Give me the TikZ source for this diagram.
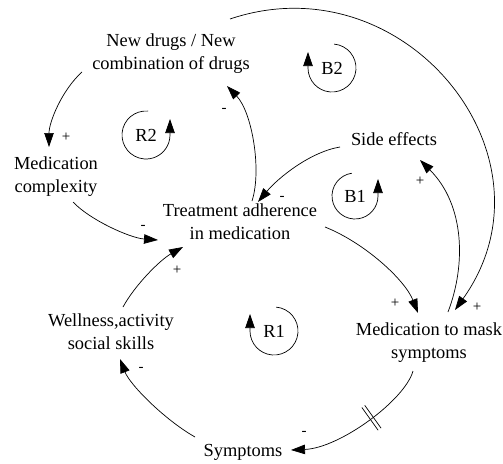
\documentclass[tikz,border=0pt]{standalone}
\usepackage{fontspec}
\setmainfont{Liberation Serif}
\usetikzlibrary{arrows.meta,decorations.markings}
\begin{document}
\begin{tikzpicture}[x = 1pt,y = -1pt,color = {black},
var/.style = {align = center,inner sep = 0pt,font = \fontsize{18.4}{23}\selectfont},
pol/.style = {inner sep = 0pt,font = \fontsize{15}{17}\selectfont},
link/.style = {line width = 0.7pt,-{Triangle[length = 14pt,width = 9.5pt]}},
delaymark/.style = {postaction = {decorate,decoration = {markings,mark = at position #1 with
{\draw[-,line width = 0.7pt] (-1.8pt,-14pt) -- (-1.8pt,14pt) (1.8pt,-14pt) -- (1.8pt,14pt);}}}}]
\useasboundingbox (0,0) rectangle (503,463);
\node[var] (newdrugs) at (171,54) {New drugs / New\\combination of drugs};
\node[var] (complexity) at (56,177) {Medication\\complexity};
\node[var] (adherence) at (240,222) {Treatment adherence\\in medication};
\node[var] (sidefx) at (394,139) {Side effects};
\node[var] (wellness) at (111,332) {Wellness,activity\\social skills};
\node[var] (masking) at (429,343) {Medication to mask\\symptoms};
\node[var] (symptoms) at (243,452) {Symptoms};
%
\draw[link] ([shift = {(-89,18)}]newdrugs.center) .. controls (62,90) and (49,122) .. ([shift = {(-7,-30)}]complexity.center);
\draw[link] ([shift = {(17,25)}]complexity.center) .. controls (90,220) and (130,238) .. ([shift = {(-82,18)}]adherence.center);
\draw[link] ([shift = {(12,-25)}]wellness.center) .. controls (135,285) and (160,260) .. ([shift = {(-57,25)}]adherence.center);
\draw[link] ([shift = {(-48,-15)}]symptoms.center) .. controls (165,420) and (130,385) .. ([shift = {(9,27)}]wellness.center);
\draw[link,delaymark = 0.42] ([shift = {(-16,28)}]masking.center) .. controls (405,400) and (340,448) .. ([shift = {(48,-2)}]symptoms.center);
\draw[link] ([shift = {(85,5)}]adherence.center) .. controls (365,243) and (405,280) .. ([shift = {(-11,-30)}]masking.center);
\draw[link] ([shift = {(12,-21)}]adherence.center) .. controls (262,170) and (252,112) .. ([shift = {(56,32)}]newdrugs.center);
\draw[link] ([shift = {(-54,8)}]sidefx.center) .. controls (310,152) and (278,178) .. ([shift = {(18,-20)}]adherence.center);
\draw[link] ([shift = {(19,-31)}]masking.center) .. controls (466,265) and (465,205) .. ([shift = {(26,21)}]sidefx.center);
\draw[link] ([shift = {(59,-35)}]newdrugs.center) .. controls (405,-40) and (564,157) .. ([shift = {(26,-33)}]masking.center);
%
\node[pol] (pol1) at (66,137) {+};\node[pol] (pol2) at (143,227) {-};\node[pol] (pol3) at (177,270) {+};
\node[pol] (pol4) at (141,369) {-};\node[pol] (pol5) at (304,433) {-};\node[pol] (pol6) at (395,303) {+};
\node[pol] (pol7) at (224,110) {-};\node[pol] (pol8) at (282,198) {-};\node[pol] (pol9) at (420,181) {+};
\node[pol] (pol10) at (477,307) {+};
%
\node[var] (r2) at (146,135) {R2};
\draw[link] (r2.center) ++(275:24) arc[start angle = 275,end angle = 0,radius = 24] -- ++(0,-16);
\node[var] (b2) at (332,68) {B2};
\draw[link] (b2.center) ++(275:24) arc[start angle = 275,end angle = 540,radius = 24] -- ++(0,-16);
\node[var] (b1) at (355,196) {B1};
\draw[link] (b1.center) ++(262:23) arc[start angle = 262,end angle = 0,radius = 23] -- ++(0,-17);
\node[var] (r1) at (274,331) {R1};
\draw[link] (r1.center) ++(275:24) arc[start angle = 275,end angle = 540,radius = 24] -- ++(0,-17);
\end{tikzpicture}
\end{document}
